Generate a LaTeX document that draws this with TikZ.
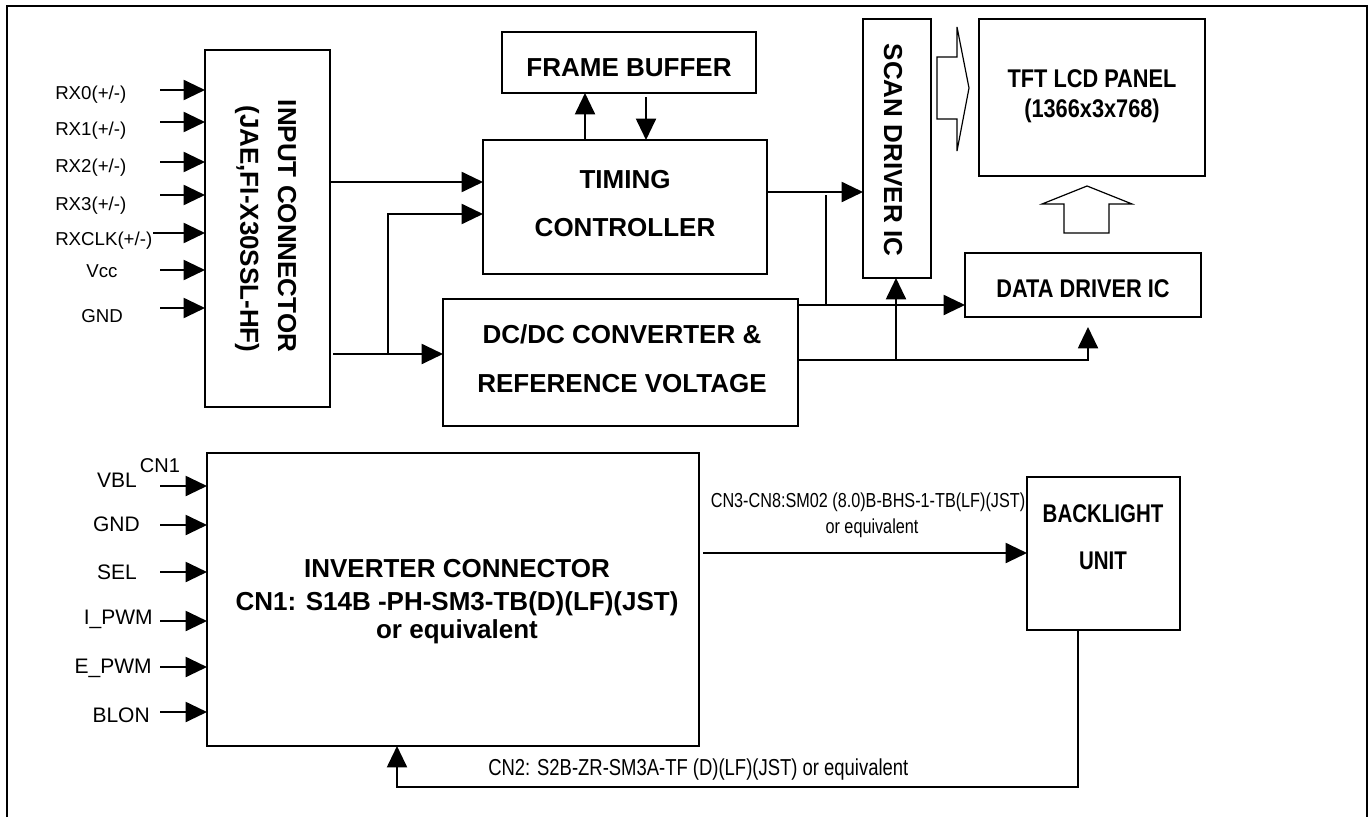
\documentclass[tikz,border=0pt]{standalone}
\usepackage{fontspec}
\setmainfont{Liberation Sans}
\newfontfamily\narrowfont{Liberation Sans}[FakeStretch=0.8]
\newfontfamily\narrowfontb{Liberation Sans}[FakeStretch=0.85]
\usetikzlibrary{arrows.meta,fit}
\begin{document}
\begin{tikzpicture}[x=0.75pt,y=-0.75pt,
  box/.style={draw,line width=2pt,inner sep=0pt,outer sep=0pt},
  frame/.style={line width=2pt},
  conn/.style={line width=1.5pt},
  arr/.style={line width=1.5pt,-{Triangle[length=16pt,width=15pt]}},
  hollow/.style={line width=0.9pt,line join=miter},
  tb/.style={font=\fontsize{19.5}{23}\selectfont\bfseries,anchor=base,inner sep=0pt},
  tn/.style={font=\narrowfont\fontsize{19.2}{23}\selectfont\bfseries,anchor=base,inner sep=0pt},
  tnb/.style={font=\narrowfontb\fontsize{19.2}{23}\selectfont\bfseries,anchor=base,inner sep=0pt},
  trot/.style={font=\fontsize{19.5}{23}\selectfont\bfseries,rotate=-90,inner sep=0pt},
  rxl/.style={font=\fontsize{14}{16}\selectfont,inner sep=0pt},
  bll/.style={font=\fontsize{15.75}{18}\selectfont,anchor=base east,inner sep=0pt},
  cn3/.style={font=\narrowfont\fontsize{15.2}{18}\selectfont,anchor=base,inner sep=0pt},
  cn2/.style={font=\narrowfont\fontsize{17.3}{20}\selectfont,anchor=base west,inner sep=0pt}
]
\useasboundingbox (0,0) rectangle (1369,817);
% outer frame (open at the bottom)
\draw[frame] (7,817) -- (7,6) -- (1367,6) -- (1367,817);

% ---------- boxes ----------
\node[box,fit={(205,50) (330,407)}] (in) {};
\node[box,fit={(502,32) (756,93)}] (fb) {};
\node[box,fit={(483,140) (767,274)}] (tc) {};
\node[box,fit={(443,299) (798,426)}] (dc) {};
\node[box,fit={(863,19) (931,278)}] (scan) {};
\node[box,fit={(979,19) (1205,176)}] (tft) {};
\node[box,fit={(965,253) (1201,317)}] (dd) {};
\node[box,fit={(207,453) (699,746)}] (inv) {};
\node[box,fit={(1027,477) (1180,630)}] (bl) {};

% ---------- box texts ----------
\node[trot] (tin1) at (287,226) {INPUT CONNECTOR};
\node[trot] (tin2) at (247,229) {(JAE,FI-X30SSL-HF)};
\node[tb] (tfb) at (629,77) {FRAME BUFFER};
\node[tb] (ttc1) at (625,188) {TIMING};
\node[tb] (ttc2) at (625,236) {CONTROLLER};
\node[tb] (tdc1) at (622,343) {DC/DC CONVERTER \&};
\node[tb] (tdc2) at (622,392) {REFERENCE VOLTAGE};
\node[trot] (tsd) at (893,150) {SCAN DRIVER IC};
\node[tnb] (ttft1) at (1092,87) {TFT LCD PANEL};
\node[tnb] (ttft2) at (1092,117) {(1366x3x768)};
\node[tnb] (tdd) at (1083,297) {DATA DRIVER IC};
\node[tn] (tbl1) at (1103,522) {BACKLIGHT};
\node[tn] (tbl2) at (1103,569) {UNIT};
\node[tb] (tinv1) at (457,577) {INVERTER CONNECTOR};
\node[tb] (tinv2) at (457,610) {CN1: S14B -PH-SM3-TB(D)(LF)(JST)};
\node[tb] (tinv3) at (457,638) {or equivalent};

% ---------- input connector signals ----------
\foreach \nm/\ay/\by/\sx/\txt in {a/90/99/160/{RX0(+/-)},b/122/135/160/{RX1(+/-)},c/162/172/160/{RX2(+/-)},d/195/210/160/{RX3(+/-)},e/233/245/153/{RXCLK(+/-)}}{
  \node[rxl,anchor=base west] (rxlab\nm) at (55,\by) {\txt};
  \coordinate (rxs\nm) at (\sx,\ay);
  \draw[arr] (rxs\nm) -- (in.west |- rxs\nm);
}
\node[rxl,anchor=base] (lvcc) at (102,277) {Vcc};
\coordinate (rxsf) at (160,270);
\draw[arr] (rxsf) -- (in.west |- rxsf);
\node[rxl,anchor=base] (lgnd) at (102,322) {GND};
\coordinate (rxsg) at (160,308);
\draw[arr] (rxsg) -- (in.west |- rxsg);

% ---------- inverter signals ----------
\node[bll] (vbl) at (137,487) {VBL};
\node[font=\fontsize{15}{18}\selectfont,anchor=base,inner sep=0pt] (cn1) at (160,472) {CN1};
\node[bll] (ign) at (140,531) {GND};
\node[bll] (sel) at (137,579) {SEL};
\node[bll] (ipw) at (153,624) {I\_PWM};
\node[bll] (epw) at (152,673) {E\_PWM};
\node[bll] (blo) at (150,722) {BLON};
\foreach \nm/\ay in {p/486,q/525,r/572,s/621,t/667,u/712}{
  \coordinate (ivs\nm) at (160,\ay);
  \draw[arr] (ivs\nm) -- (inv.west |- ivs\nm);
}

% ---------- connectors, upper part ----------
\coordinate (k1) at (330,182);
\draw[arr] (in.east |- k1) -- (tc.west |- k1);
\coordinate (k2) at (333,354);
\draw[arr] (k2) -- (dc.west |- k2);
\coordinate (k3) at (388,354);
\coordinate (k4) at (388,214);
\draw[arr] (k3) -- (k4) -- (tc.west |- k4);
\coordinate (f1) at (585,140);
\draw[arr] (tc.north -| f1) -- (fb.south -| f1);
\coordinate (f2) at (646,97);
\draw[arr] (f2) -- (tc.north -| f2);
\coordinate (k5) at (767,192);
\draw[arr] (tc.east |- k5) -- (scan.west |- k5);
\coordinate (k6) at (826,195);
\coordinate (k7) at (826,305);
\draw[conn] (k6) -- (k7);
\draw[arr] (dc.east |- k7) -- (dd.west |- k7);
\coordinate (k8) at (798,360);
\coordinate (k9) at (1088,360);
\coordinate (k10) at (1088,327);
\draw[arr] (dc.east |- k8) -- (k9) -- (k10);
\coordinate (k11) at (896,360);
\draw[arr] (k11) -- (scan.south -| k11);

% hollow arrows
\draw[hollow] (937,57) -- (957,57) -- (957,27) -- (969,88) -- (957,151) -- (957,119) -- (937,119) -- cycle;
\draw[hollow] (1064,233) -- (1064,204) -- (1042,204) -- (1087,186) -- (1132,204) -- (1109,204) -- (1109,233) -- cycle;

% ---------- connectors, lower part ----------
\coordinate (m1) at (703,553);
\draw[arr] (m1) -- (bl.west |- m1);
\node[cn3] (c3a) at (868,507) {CN3-CN8:SM02 (8.0)B-BHS-1-TB(LF)(JST)};
\node[cn3] (c3b) at (872,533) {or equivalent};
\coordinate (m2) at (1078,787);
\coordinate (m3) at (397,787);
\draw[arr] (bl.south -| m2) -- (m2) -- (m3) -- (inv.south -| m3);
\node[cn2] (c2) at (488,775) {CN2: S2B-ZR-SM3A-TF (D)(LF)(JST) or equivalent};
\end{tikzpicture}
\end{document}
